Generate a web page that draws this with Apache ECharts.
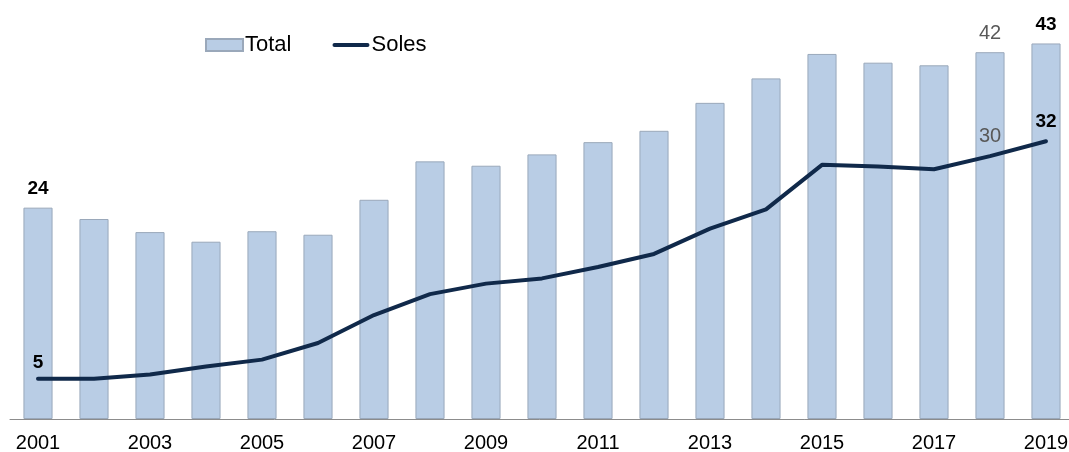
<!DOCTYPE html>
<html>
<head>
<meta charset="utf-8">
<script src="https://cdn.jsdelivr.net/npm/echarts@6/dist/echarts.min.js"></script>
<style>
html,body{margin:0;padding:0;background:#fff;overflow:hidden;}
#chart{width:1069px;height:452px;}
</style>
</head>
<body>
<div id="chart"></div>
<script>
var years = ['2001','2002','2003','2004','2005','2006','2007','2008','2009','2010','2011','2012','2013','2014','2015','2016','2017','2018','2019'];
var totalValues = [24.2, 22.9, 21.4, 20.3, 21.5, 21.1, 25.1, 29.5, 29.0, 30.3, 31.7, 33.0, 36.2, 39.0, 41.8, 40.8, 40.5, 42.0, 43.0];
var solesValues = [4.6, 4.6, 5.1, 6.0, 6.8, 8.7, 11.9, 14.3, 15.5, 16.1, 17.4, 18.9, 21.8, 24.0, 29.1, 28.9, 28.6, 30.1, 31.8];
var totalLabels = {0: '24', 17: '42', 18: '43'};
var solesLabels = {0: '5', 17: '30', 18: '32'};

var FONT = "'Liberation Sans', Arial, sans-serif";
function labelStyle(i, text, dist) {
  var grey = (i === 17);
  return {
    show: true,
    position: 'top',
    distance: dist,
    formatter: text,
    fontFamily: FONT,
    fontSize: grey ? 20 : 19,
    fontWeight: grey ? 'normal' : 'bold',
    color: grey ? '#595959' : '#000000'
  };
}
var barData = totalValues.map(function (v, i) {
  var d = {value: v};
  if (totalLabels[i] !== undefined) d.label = labelStyle(i, totalLabels[i], 9);
  return d;
});
var lineMarks = Object.keys(solesLabels).map(function (k) {
  var i = +k;
  return {
    coord: [i, solesValues[i]],
    value: solesLabels[k],
    label: labelStyle(i, solesLabels[k], i === 0 ? 6 : 9)
  };
});

var chart = echarts.init(document.getElementById('chart'));
chart.setOption({
  animation: false,
  backgroundColor: '#ffffff',
  textStyle: {fontFamily: FONT},
  grid: {left: 10, right: -5, top: 26, bottom: 33, containLabel: false, outerBoundsMode: 'none'},
  legend: {
    left: 200,
    top: 29,
    itemGap: 41,
    itemWidth: 37,
    itemHeight: 12,
    textStyle: {fontFamily: FONT, fontSize: 22, color: '#000', padding: [0, 0, 0, -3]},
    data: [
      {name: 'Total', icon: 'rect'},
      {name: 'Soles', icon: 'path://M0,0M2,4L35,4A2,2,0,0,1,35,8L2,8A2,2,0,0,1,2,4ZM37,12',
       itemStyle: {color: '#10294A', borderWidth: 0}}
    ]
  },
  xAxis: {
    type: 'category',
    data: years,
    axisLine: {show: true, lineStyle: {color: '#8c8c8c', width: 1}},
    axisTick: {show: false},
    axisLabel: {interval: 1, color: '#000', fontFamily: FONT, fontSize: 20, margin: 14, hideOverlap: false}
  },
  yAxis: {
    type: 'value',
    min: 0,
    max: 45,
    show: false,
    splitLine: {show: false}
  },
  series: [
    {
      name: 'Total',
      type: 'bar',
      barWidth: '52%',
      data: barData,
      itemStyle: {color: '#B9CDE5', borderColor: '#9AA8BA', borderWidth: 1},
      label: {show: false}
    },
    {
      name: 'Soles',
      type: 'line',
      data: solesValues,
      symbol: 'none',
      lineStyle: {color: '#10294A', width: 4, cap: 'round', join: 'round'},
      itemStyle: {color: '#10294A'},
      label: {show: false},
      markPoint: {
        symbol: 'circle',
        symbolSize: 2,
        itemStyle: {color: 'rgba(0,0,0,0)'},
        silent: true,
        data: lineMarks
      }
    }
  ]
});
</script>
</body>
</html>
